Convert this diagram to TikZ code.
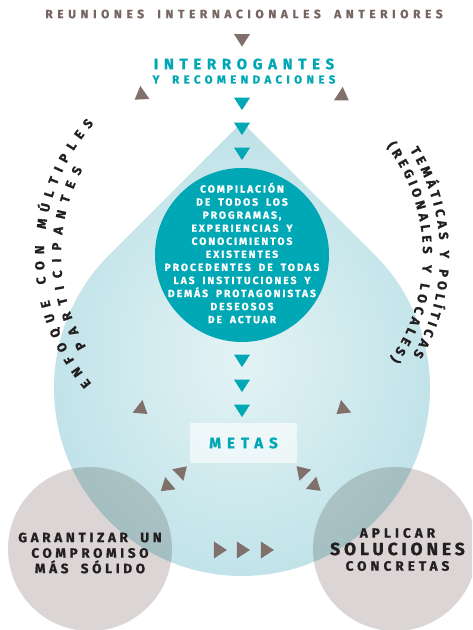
\documentclass[tikz,border=0pt]{standalone}
\usepackage{fontspec}
\setmainfont{Fira Sans}[BoldFeatures={FakeBold=1}]
\usepackage{tikz}
\usetikzlibrary{positioning}
\usetikzlibrary{calc}
\usetikzlibrary{shapes.geometric}
\usetikzlibrary{decorations.text}

\newcommand{\spaced}[1]{\addfontfeatures{LetterSpace=#1}\spaceskip=1.8\fontdimen2\font\relax\ignorespaces}
\newcommand{\arcfont}{\bfseries\fontsize{13}{13}\selectfont\color{inkc}}

\tikzset{
	dart/.style={isosceles triangle, isosceles triangle stretches, minimum width=16pt, minimum height=12.5pt, inner sep=0pt, fill=#1},
	bigdisc/.style={circle, inner sep=0pt, minimum size=#1},
	arctext/.style={decorate, decoration={text along path, text={#1}, text align=fit to path}}
}

\begin{document}
\begin{tikzpicture}[x=1pt, y=1pt]
	\definecolor{tealc}{RGB}{0,167,180}
	\definecolor{brownc}{RGB}{128,112,107}
	\definecolor{titlec}{RGB}{118,101,96}
	\definecolor{inkc}{RGB}{35,31,32}
	\definecolor{dropin}{RGB}{228,243,245}
	\definecolor{dropout}{RGB}{190,226,232}
	\definecolor{greyc}{RGB}{219,214,213}

	\useasboundingbox (0,0) rectangle (472,630);
	\clip (0,0) rectangle (472,630);

	% the drop
	\coordinate (tip) at (242,508);
	\coordinate (dropc) at (242,242);
	\shade[inner color=dropin, outer color=dropout] (tip) -- ($(dropc)+(135:188)$) arc[start angle=135, end angle=405, radius=188] -- cycle;

	% grey circles
	\begin{scope}[blend mode=multiply]
		\node[bigdisc=164pt, fill=greyc] (garantizar) at (90,81) {};
		\node[bigdisc=164pt, fill=greyc] (aplicar) at (395,81) {};
	\end{scope}

	\node[bigdisc=174pt, fill=tealc] (compilacion) at (242,375) {};

	% texts
	\draw (244,616) node (reuniones) {\color{titlec}\bfseries\fontsize{12}{14}\selectfont\spaced{38} REUNIONES INTERNACIONALES ANTERIORES};
	\draw (244,566) node (interrogantes) {\color{tealc}\bfseries\fontsize{15}{17}\selectfont\spaced{38} INTERROGANTES};
	\draw (244,550.5) node (recomendaciones) {\color{tealc}\bfseries\fontsize{11.5}{13}\selectfont\spaced{38} Y RECOMENDACIONES};

	\draw (242,377) node[align=center, text=white, font=\bfseries\fontsize{10.3}{13.06}\selectfont\spaced{19}] (compilaciontxt) {COMPILACIÓN\\DE TODOS LOS\\PROGRAMAS,\\EXPERIENCIAS Y\\CONOCIMIENTOS\\EXISTENTES\\PROCEDENTES DE TODAS\\LAS INSTITUCIONES Y\\DEMÁS PROTAGONISTAS\\DESEOSOS\\DE ACTUAR};

	\node[fill=white, fill opacity=0.6, text opacity=1, minimum width=107pt, minimum height=40pt, text=tealc, font=\bfseries\fontsize{15}{17}\selectfont\spaced{40}] (metas) at (243.5,187) {METAS};

	\draw (90,77) node[align=center, text=inkc, font=\bfseries\fontsize{13.5}{15.5}\selectfont\spaced{27}] (garantizartxt) {GARANTIZAR UN\\COMPROMISO\\MÁS SÓLIDO};
	\draw (397.5,97) node[text=inkc, font=\bfseries\fontsize{13.5}{15}\selectfont\spaced{30}] (aplicartxt) {APLICAR};
	\draw (397.5,81) node[text=inkc, font=\bfseries\fontsize{17.5}{19}\selectfont\spaced{22}] (solucionestxt) {SOLUCIONES};
	\draw (397.5,64) node[text=inkc, font=\bfseries\fontsize{13.5}{15}\selectfont\spaced{30}] (concretastxt) {CONCRETAS};

	% curved texts
	\coordinate (arcc) at (242,375);
	\path[arctext={|\arcfont|ENFOQUE CON MÚLTIPLES}] ($(arcc)+(220.5:198)$) arc[start angle=220.5, end angle=138.5, radius=198];
	\path[arctext={|\arcfont|PARTICIPANTES}] ($(arcc)+(210.5:181)$) arc[start angle=210.5, end angle=151.8, radius=181];
	\path[arctext={|\arcfont|TEMÁTICAS Y POLÍTICAS}] ($(arcc)+(32:198)$) arc[start angle=32, end angle=-30.3, radius=198];
	\path[arctext={|\arcfont|(REGIONALES Y LOCALES)}] ($(arcc)+(37:181)$) arc[start angle=37, end angle=-35, radius=181];

	% arrow heads
	\node[dart=brownc, rotate=-90] (a1) at (242,591.5) {};
	\node[dart=tealc, rotate=-90] (a2) at (242,528) {};
	\node[dart=tealc, rotate=-90] (a3) at (242,503) {};
	\node[dart=tealc, rotate=-90] (a4) at (242,478) {};
	\node[dart=brownc, rotate=215] (a5) at (141.3,535) {};
	\node[dart=brownc, rotate=-33] (a6) at (342,534) {};
	\node[dart=tealc, rotate=-90] (a7) at (242,271) {};
	\node[dart=tealc, rotate=-90] (a8) at (242,246) {};
	\node[dart=tealc, rotate=-90] (a9) at (242,221) {};
	\node[dart=brownc, rotate=-38] (a10) at (141,221) {};
	\node[dart=brownc, rotate=219] (a11) at (342.7,221) {};
	\node[dart=brownc, rotate=44] (a12) at (181,158) {};
	\node[dart=brownc, rotate=220] (a13) at (167,144) {};
	\node[dart=brownc, rotate=134] (a14) at (302.2,158) {};
	\node[dart=brownc, rotate=-40] (a15) at (314.4,144.4) {};
	\node[dart=brownc, minimum width=17pt, minimum height=13pt] (a16) at (218.5,80) {};
	\node[dart=brownc, minimum width=17pt, minimum height=13pt] (a17) at (241.5,80) {};
	\node[dart=brownc, minimum width=17pt, minimum height=13pt] (a18) at (265.5,80) {};
\end{tikzpicture}
\end{document}
